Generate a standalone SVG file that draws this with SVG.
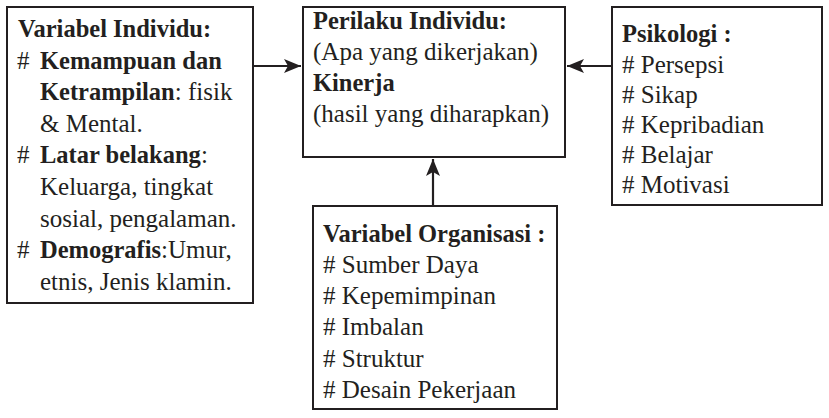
<svg xmlns="http://www.w3.org/2000/svg" width="829" height="418" viewBox="0 0 829 418">
<style>
.box{fill:#fff;stroke:#231f20;stroke-width:2}
text{font-family:"Liberation Serif","Times New Roman",serif;font-size:25px;fill:#231f20}
.b{font-weight:bold;font-size:24.5px}
.con{stroke:#231f20;stroke-width:2.2;fill:none}
</style>
<defs>
<marker id="ah" markerUnits="userSpaceOnUse" markerWidth="18" markerHeight="14" refX="17" refY="7" orient="auto">
<path d="M0,0 L17,7 L0,14 L4,7 Z" fill="#231f20"/>
</marker>
</defs>
<rect width="829" height="418" fill="#fff"/>
<g id="connectors">
<line class="con" x1="253" y1="66" x2="301" y2="66" marker-end="url(#ah)"/>
<line class="con" x1="612" y1="66" x2="567" y2="66" marker-end="url(#ah)"/>
<line class="con" x1="433" y1="206" x2="433" y2="159" marker-end="url(#ah)"/>
</g>
<g id="individu">
<rect class="box" x="7" y="7" width="246" height="296"/>
<text x="18" y="37" class="b">Variabel Individu:</text>
<text x="17" y="68.5">#<tspan x="40" class="b">Kemampuan dan</tspan></text>
<text x="40" y="100"><tspan class="b">Ketrampilan</tspan>: fisik</text>
<text x="40" y="132">&amp; Mental.</text>
<text x="17" y="163">#<tspan x="40" class="b">Latar belakang</tspan>:</text>
<text x="40" y="195">Keluarga, tingkat</text>
<text x="40" y="227">sosial, pengalaman.</text>
<text x="17" y="258">#<tspan x="40" class="b">Demografis</tspan>:Umur,</text>
<text x="40" y="290">etnis, Jenis klamin.</text>
</g>
<g id="perilaku">
<rect class="box" x="303" y="7" width="262" height="150"/>
<text x="313" y="29" class="b">Perilaku Individu:</text>
<text x="313" y="60">(Apa yang dikerjakan)</text>
<text x="313" y="91" class="b">Kinerja</text>
<text x="313" y="122">(hasil yang diharapkan)</text>
</g>
<g id="psikologi">
<rect class="box" x="612" y="7" width="210" height="198"/>
<text x="622" y="42" class="b">Psikologi :</text>
<text x="622" y="72.5"># Persepsi</text>
<text x="622" y="103"># Sikap</text>
<text x="622" y="133"># Kepribadian</text>
<text x="622" y="163"># Belajar</text>
<text x="622" y="193"># Motivasi</text>
</g>
<g id="organisasi">
<rect class="box" x="313" y="206" width="244" height="203"/>
<text x="323" y="242" class="b">Variabel Organisasi :</text>
<text x="323" y="273"># Sumber Daya</text>
<text x="323" y="304"># Kepemimpinan</text>
<text x="323" y="335"># Imbalan</text>
<text x="323" y="367"># Struktur</text>
<text x="323" y="398"># Desain Pekerjaan</text>
</g>
</svg>
